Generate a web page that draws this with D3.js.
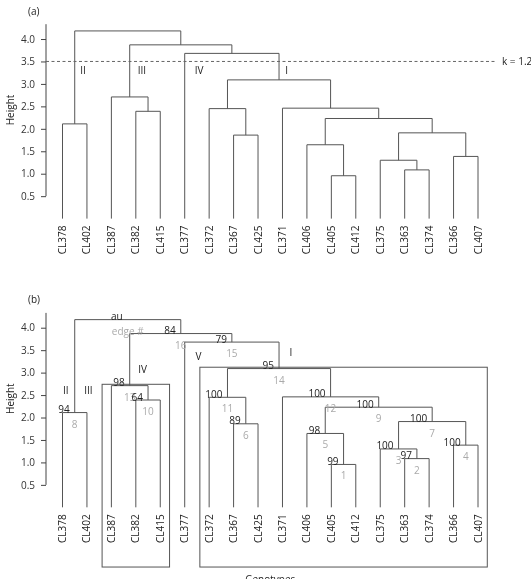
<!DOCTYPE html>
<html>
<head>
<meta charset="utf-8">
<script src="https://cdn.jsdelivr.net/npm/d3@7"></script>
<style>
  body { margin: 0; background: #fff; }
  svg { will-change: transform; }
  text { font-family: "Open Sans", sans-serif; }
</style>
</head>
<body>
<svg id="chart" width="531" height="579"></svg>
<script>
// leaf order as drawn
var leaves = ["CL378", "CL402", "CL387", "CL382", "CL415", "CL377", "CL372", "CL367", "CL425",
              "CL371", "CL406", "CL405", "CL412", "CL375", "CL363", "CL374", "CL366", "CL407"];

// hclust style merges: negative = leaf (1-based), positive = earlier merge (= edge #)
var merges = [[-12, -13], [-15, -16], [-14, 2], [-17, -18], [-11, 1], [-8, -9], [3, 4], [-1, -2],
              [5, 7], [-4, -5], [-7, 6], [-10, 9], [-3, 10], [11, 12], [-6, 14], [13, 15], [8, 16]];
var heights = [0.955, 1.085, 1.30, 1.385, 1.645, 1.86, 1.91, 2.11, 2.23, 2.39, 2.45, 2.46, 2.71,
               3.09, 3.68, 3.87, 4.18];

// pvclust values, last one is the legend on the root
var auValues = ["99", "97", "100", "100", "98", "89", "100", "94", "100", "64", "100", "100", "98",
                "95", "79", "84", "au"];
var edgeLabels = ["1", "2", "3", "4", "5", "6", "7", "8", "9", "10", "11", "12", "13", "14", "15",
                  "16", "edge #"];

var yTicks = [0.5, 1.0, 1.5, 2.0, 2.5, 3.0, 3.5, 4.0];
var cutHeight = 3.5;
var cutLabel = "k = 1.2";

// cluster tags: position in leaf units, height
var tagsA = [{ t: "II", p: 0.84, h: 3.29 }, { t: "III", p: 3.25, h: 3.29 },
             { t: "IV", p: 5.59, h: 3.29 }, { t: "I", p: 9.17, h: 3.29 }];
var tagsB = [{ t: "II", p: 0.13, h: 2.61 }, { t: "III", p: 1.06, h: 2.61 },
             { t: "IV", p: 3.28, h: 3.08 }, { t: "V", p: 5.56, h: 3.35 },
             { t: "I", p: 9.34, h: 3.44 }];
var boxedEdges = [13, 14];

var svg = d3.select("#chart");
var lineCol = "#555", textCol = "#222", greyCol = "#aaa";
var unit = 44.9, hMax = 4.33;

var x = d3.scalePoint().domain(leaves).range([62.5, 478]);
var step = x.step();

function drawPanel(yTop, tag, tags) {
  var y = d3.scaleLinear().domain([0, hMax]).range([yTop + hMax * unit, yTop]);
  var g = svg.append("g");

  // node x positions and leaf spans
  var nx = [], span = [];
  function cx(c) { return c < 0 ? x(leaves[-c - 1]) : nx[c - 1]; }
  function ch(c) { return c < 0 ? 0 : heights[c - 1]; }
  function sp(c) { return c < 0 ? [-c - 1, -c - 1] : span[c - 1]; }
  merges.forEach(function(m, i) {
    nx[i] = (cx(m[0]) + cx(m[1])) / 2;
    var a = sp(m[0]), b = sp(m[1]);
    span[i] = [Math.min(a[0], b[0]), Math.max(a[1], b[1])];
  });

  g.selectAll("path.link").data(merges).enter().append("path")
    .attr("class", "link")
    .attr("fill", "none").attr("stroke", lineCol).attr("stroke-width", 1)
    .attr("d", function(m, i) {
      return "M" + cx(m[0]) + "," + y(ch(m[0])) + "V" + y(heights[i]) +
             "H" + cx(m[1]) + "V" + y(ch(m[1]));
    });

  // axis
  var ax = g.append("g").attr("transform", "translate(46,0)")
    .call(d3.axisLeft(y).tickValues(yTicks).tickSize(5).tickPadding(6)
      .tickFormat(d3.format(".1f")));
  ax.select(".domain").remove();
  ax.selectAll(".tick line").attr("stroke", "#444");
  ax.selectAll(".tick text").attr("fill", "#333").style("font-size", "10px")
    .style("font-family", "'Open Sans', sans-serif");
  ax.append("line").attr("y1", y(yTicks[0])).attr("y2", y(hMax))
    .attr("stroke", "#444");

  g.append("text").attr("transform", "translate(10.7," + y(2.42) + ") rotate(-90)")
    .attr("text-anchor", "middle").attr("dy", "0.35em")
    .attr("fill", textCol).style("font-size", "10px").text("Height");

  g.append("text").attr("x", 28).attr("y", yTop - 9.5)
    .attr("fill", textCol).style("font-size", "10px").text(tag);

  // leaf labels
  g.selectAll("text.leaf").data(leaves).enter().append("text")
    .attr("class", "leaf")
    .attr("transform", function(d) { return "translate(" + x(d) + "," + (y(0) + 7) + ") rotate(-90)"; })
    .attr("text-anchor", "end").attr("dy", "0.35em")
    .attr("fill", textCol).style("font-size", "10px").text(function(d) { return d; });

  g.selectAll("text.tag").data(tags).enter().append("text")
    .attr("class", "tag")
    .attr("x", function(d) { return x(leaves[0]) + d.p * step; })
    .attr("y", function(d) { return y(d.h); })
    .attr("dy", "0.35em").attr("text-anchor", "middle")
    .attr("fill", textCol).style("font-size", "10px").text(function(d) { return d.t; });

  return { g: g, y: y, nx: nx, span: span };
}

// panel (a)
var pa = drawPanel(24.2, "(a)", tagsA);
pa.g.append("line")
  .attr("x1", 46).attr("x2", 497).attr("y1", pa.y(cutHeight)).attr("y2", pa.y(cutHeight))
  .attr("stroke", "#666").attr("stroke-dasharray", "3,2.5");
pa.g.append("text").attr("x", 502).attr("y", pa.y(cutHeight)).attr("dy", "0.35em")
  .attr("fill", textCol).style("font-size", "10px").text(cutLabel);

// panel (b)
var pb = drawPanel(312.9, "(b)", tagsB);

// edge numbers (grey) then au values (black on top)
pb.g.selectAll("text.edge").data(edgeLabels).enter().append("text")
  .attr("class", "edge")
  .attr("x", function(d, i) { return pb.nx[i]; })
  .attr("y", function(d, i) { return pb.y(heights[i]) + 15; })
  .attr("text-anchor", "middle").attr("fill", greyCol).style("font-size", "10px")
  .text(function(d) { return d; });
pb.g.selectAll("text.au").data(auValues).enter().append("text")
  .attr("class", "au")
  .attr("x", function(d, i) { return pb.nx[i] - 5; })
  .attr("y", function(d, i) { return pb.y(heights[i]) + 0.5; })
  .attr("text-anchor", "end").attr("fill", textCol).style("font-size", "10px")
  .text(function(d) { return d; });

// highlighted clusters
pb.g.selectAll("rect.box").data(boxedEdges).enter().append("rect")
  .attr("class", "box")
  .attr("x", function(e) { return x(leaves[pb.span[e - 1][0]]) - 0.38 * step; })
  .attr("width", function(e) {
    var s = pb.span[e - 1];
    return x(leaves[s[1]]) - x(leaves[s[0]]) + 0.76 * step;
  })
  .attr("y", function(e) { return pb.y(heights[e - 1] + 0.03); })
  .attr("height", function(e) { return pb.y(-1.33) - pb.y(heights[e - 1] + 0.03); })
  .attr("fill", "none").attr("stroke", lineCol).attr("stroke-width", 1);

pb.g.append("text").attr("x", (x.range()[0] + x.range()[1]) / 2).attr("y", 583)
  .attr("text-anchor", "middle").attr("fill", textCol).style("font-size", "10px")
  .text("Genotypes");
</script>
</body>
</html>
